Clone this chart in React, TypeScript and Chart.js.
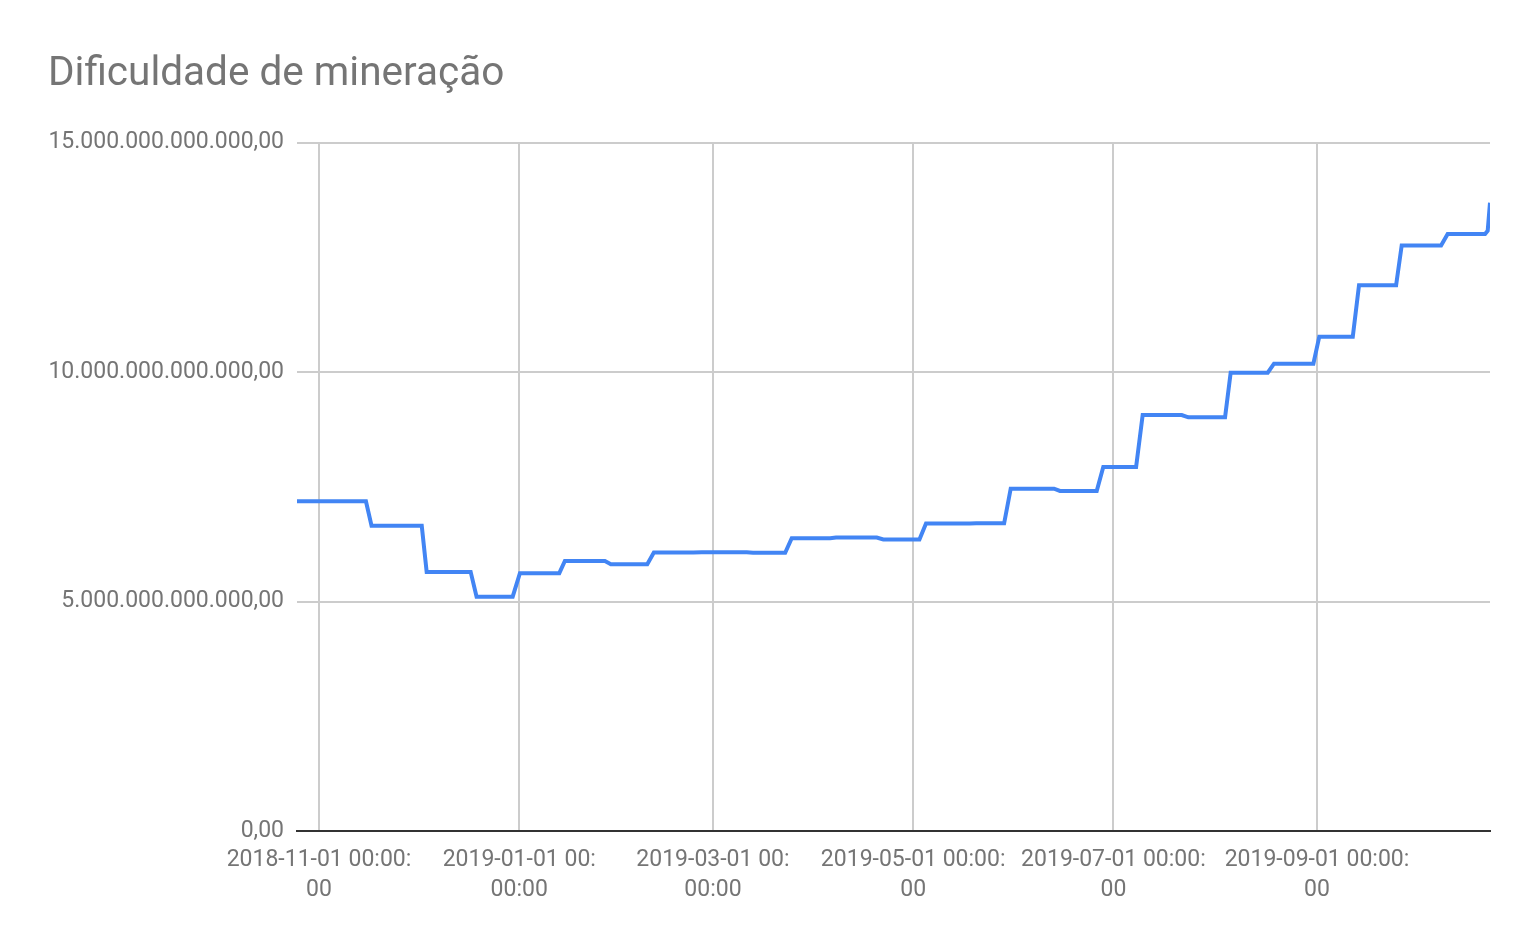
import React, { useEffect, useRef } from "react";
import { Chart, registerables } from "chart.js";

Chart.register(...registerables);

const titleText = "Dificuldade de mineração";

// x: days since 2018-11-01 00:00
const dayOffsets = [
  -6.7, 14.3, 16.0, 31.3, 32.8, 46.2, 48.0, 59.0, 61.2, 73.2,
  74.9, 87.1, 88.9, 100.0, 102.0, 114.0, 116.6, 130.3, 132.2, 142.0,
  144.0, 155.7, 157.5, 169.9, 171.9, 182.9, 184.9, 198.3, 200.2, 208.7,
  210.7, 223.9, 225.7, 236.9, 238.9, 248.9, 250.9, 262.8, 264.8, 276.0,
  277.7, 289.0, 290.9, 302.9, 304.7, 314.9, 316.8, 328.1, 329.8, 341.8,
  343.8, 355.2, 356.0, 356.7,
];

// difficulty in trillions
const difficultyT = [
  7.184, 7.184, 6.653, 6.653, 5.646, 5.646, 5.106, 5.106, 5.618, 5.618,
  5.883, 5.883, 5.814, 5.814, 6.068, 6.068, 6.072, 6.072, 6.061, 6.061,
  6.379, 6.379, 6.393, 6.393, 6.353, 6.353, 6.702, 6.702, 6.704, 6.704,
  7.459, 7.459, 7.409, 7.409, 7.934, 7.934, 9.064, 9.064, 9.013, 9.013,
  9.985, 9.985, 10.183, 10.183, 10.771, 10.771, 11.89, 11.89, 12.759, 12.759,
  13.008, 13.008, 13.08, 13.69,
];

const xTickDays = [0, 61, 120, 181, 242, 304];
const xTickLabels = [
  ["2018-11-01 00:00:", "00"],
  ["2019-01-01 00:", "00:00"],
  ["2019-03-01 00:", "00:00"],
  ["2019-05-01 00:00:", "00"],
  ["2019-07-01 00:00:", "00"],
  ["2019-09-01 00:00:", "00"],
];

const yTickValues = [0, 5e12, 10e12, 15e12];
const yTickLabels = [
  "0,00",
  "5.000.000.000.000,00",
  "10.000.000.000.000,00",
  "15.000.000.000.000,00",
];

export default function App() {
  const ref = useRef<HTMLCanvasElement>(null);

  useEffect(() => {
    document.body.style.margin = "0";
    const points = dayOffsets.map((d, i) => ({ x: d, y: difficultyT[i] * 1e12 }));
    const chart = new Chart(ref.current!, {
      type: "line",
      data: {
        datasets: [
          {
            data: points,
            borderColor: "#4285F4",
            borderWidth: 4,
            pointRadius: 0,
            tension: 0,
            fill: false,
          },
        ],
      },
      options: {
        responsive: false,
        animation: false,
        layout: { padding: { left: 48, right: 48, top: 0, bottom: 0 } },
        plugins: {
          legend: { display: false },
          tooltip: { enabled: false },
          title: {
            display: true,
            text: titleText,
            align: "start",
            color: "#757575",
            font: { family: "Roboto", size: 40.5, weight: "normal", lineHeight: 1.2 },
            padding: { top: 51, bottom: 43 },
          },
        },
        scales: {
          x: {
            type: "linear",
            min: -6.7,
            max: 356.7,
            afterBuildTicks: (s: any) => {
              s.ticks = xTickDays.map((v) => ({ value: v }));
            },
            afterFit: (s: any) => {
              s.height = 119;
            },
            ticks: {
              autoSkip: false,
              maxRotation: 0,
              color: "#757575",
              font: { family: "Roboto", size: 23, lineHeight: 30 / 23 },
              padding: 14,
              callback: (v: any) => {
                const i = xTickDays.indexOf(Number(v));
                return i >= 0 ? xTickLabels[i] : "";
              },
            },
            grid: { color: "#cccccc", lineWidth: 2, drawTicks: false },
            border: { display: true, color: "#333333", width: 2 },
          },
          y: {
            min: 0,
            max: 15e12,
            afterBuildTicks: (s: any) => {
              s.ticks = yTickValues.map((v) => ({ value: v }));
            },
            afterFit: (s: any) => {
              s.width = 249;
            },
            ticks: {
              color: "#757575",
              font: { family: "Roboto", size: 23 },
              padding: 13,
              callback: (v: any) => {
                const i = yTickValues.indexOf(Number(v));
                return i >= 0 ? yTickLabels[i] : "";
              },
            },
            grid: { color: "#cccccc", lineWidth: 2, drawTicks: false },
            border: { display: false },
          },
        },
      },
    });
    return () => chart.destroy();
  }, []);

  return <canvas ref={ref} width={1538} height={950} style={{ display: "block" }} />;
}
